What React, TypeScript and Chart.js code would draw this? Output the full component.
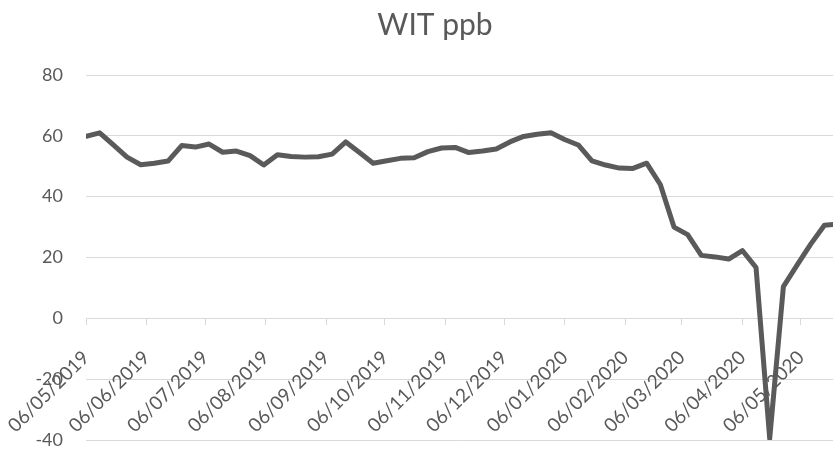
import React, { useEffect, useRef } from "react";
import { Chart, registerables } from "chart.js";

Chart.register(...registerables);

const chartTitle = "WIT ppb";

const pointDates = [
  "2019-05-06", "2019-05-13", "2019-05-20", "2019-05-27", "2019-06-03", "2019-06-10",
  "2019-06-17", "2019-06-24", "2019-07-01", "2019-07-08", "2019-07-15", "2019-07-22",
  "2019-07-29", "2019-08-05", "2019-08-12", "2019-08-19", "2019-08-26", "2019-09-02",
  "2019-09-09", "2019-09-16", "2019-09-23", "2019-09-30", "2019-10-07", "2019-10-14",
  "2019-10-21", "2019-10-28", "2019-11-04", "2019-11-11", "2019-11-18", "2019-11-25",
  "2019-12-02", "2019-12-09", "2019-12-16", "2019-12-23", "2019-12-30", "2020-01-06",
  "2020-01-13", "2020-01-20", "2020-01-27", "2020-02-03", "2020-02-10", "2020-02-17",
  "2020-02-24", "2020-03-02", "2020-03-09", "2020-03-16", "2020-03-23", "2020-03-30",
  "2020-04-06", "2020-04-13", "2020-04-20", "2020-04-27", "2020-05-04", "2020-05-11",
  "2020-05-18", "2020-05-25",
];

const witValues = [
  59.8, 61, 57, 53, 50.5, 51, 51.7, 56.8, 56.3, 57.3, 54.6, 55,
  53.5, 50.4, 53.8, 53.2, 53, 53.1, 54, 58, 54.5, 51, 51.8, 52.6,
  52.8, 54.8, 56, 56.2, 54.5, 55, 55.7, 58, 59.8, 60.5, 61, 58.8,
  57, 51.8, 50.4, 49.4, 49.3, 51, 44, 30, 27.5, 20.7, 20.2, 19.5,
  22.3, 16.7, -39.5, 10.4, 17.5, 24.4, 30.6, 31,
];

const tickDates = [
  "2019-05-06", "2019-06-06", "2019-07-06", "2019-08-06", "2019-09-06", "2019-10-06",
  "2019-11-06", "2019-12-06", "2020-01-06", "2020-02-06", "2020-03-06", "2020-04-06",
  "2020-05-06",
];

const tickLabels = [
  "06/05/2019", "06/06/2019", "06/07/2019", "06/08/2019", "06/09/2019", "06/10/2019",
  "06/11/2019", "06/12/2019", "06/01/2020", "06/02/2020", "06/03/2020", "06/04/2020",
  "06/05/2020",
];

const yMin = -40;
const yMax = 80;
const yStep = 20;
const xEndDays = 382.4;

const DAY = 86400000;
const startMs = Date.parse(pointDates[0]);
const toDays = (d: string) => (Date.parse(d) - startMs) / DAY;

const TEXT = "#595959";
const GRID = "#d9d9d9";
const FONT = "Lato";

const titlePlugin = {
  id: "excelTitle",
  afterDraw(chart: any) {
    const ctx = chart.ctx;
    ctx.save();
    ctx.fillStyle = TEXT;
    ctx.font = `30px ${FONT}`;
    ctx.textAlign = "center";
    ctx.textBaseline = "alphabetic";
    ctx.fillText(chartTitle, 435, 35);
    ctx.restore();
  },
};

export default function App() {
  const ref = useRef<HTMLCanvasElement | null>(null);

  useEffect(() => {
    if (!ref.current) return;
    const data = pointDates.map((d, i) => ({ x: toDays(d), y: witValues[i] }));
    const tickValues = tickDates.map(toDays);
    const chart = new Chart(ref.current, {
      type: "line",
      data: {
        datasets: [
          {
            label: chartTitle,
            data,
            borderColor: "#5a5a5a",
            backgroundColor: "#5a5a5a",
            borderWidth: 5,
            pointRadius: 0,
            tension: 0,
            borderJoinStyle: "round",
            borderCapStyle: "round",
          },
        ],
      },
      options: {
        responsive: false,
        animation: false,
        devicePixelRatio: 1,
        layout: { padding: { top: 75, bottom: 12, left: 0, right: 0 } },
        plugins: {
          legend: { display: false },
          title: { display: false },
          tooltip: { enabled: false },
        },
        scales: {
          x: {
            type: "linear",
            position: { y: 0 },
            min: 0,
            max: xEndDays,
            afterBuildTicks: (scale: any) => {
              scale.ticks = tickValues.map((v) => ({ value: v }));
            },
            afterFit: (scale: any) => {
              scale.height = 0;
              scale.paddingLeft = 0;
              scale.paddingRight = 0;
            },
            ticks: {
              autoSkip: false,
              minRotation: 45,
              maxRotation: 45,
              color: TEXT,
              font: { family: FONT, size: 19 },
              padding: 22,
              callback: (_v: any, i: number) => tickLabels[i],
            },
            grid: {
              drawOnChartArea: false,
              drawTicks: true,
              tickLength: 6,
              color: GRID,
            },
            border: { display: true, color: GRID, width: 1 },
          },
          y: {
            type: "linear",
            min: yMin,
            max: yMax,
            afterFit: (scale: any) => {
              scale.width = 86;
            },
            ticks: {
              stepSize: yStep,
              color: TEXT,
              font: { family: FONT, size: 18 },
              padding: 1,
            },
            grid: {
              color: GRID,
              drawTicks: true,
              tickLength: 22,
              tickColor: "rgba(0,0,0,0)",
              lineWidth: 1,
            },
            border: { display: false },
          },
        },
      },
      plugins: [titlePlugin],
    });
    return () => chart.destroy();
  }, []);

  return (
    <div style={{ position: "absolute", left: 0, top: 0, width: 833, height: 452, background: "#fff" }}>
      <canvas ref={ref} width={833} height={452} />
    </div>
  );
}
